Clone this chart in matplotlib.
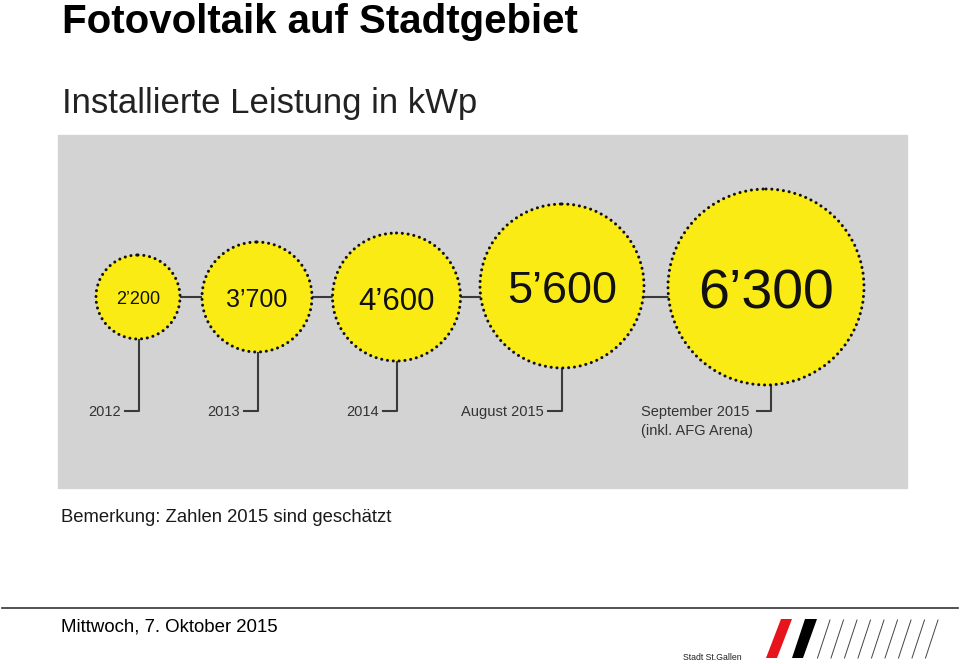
import matplotlib
matplotlib.use('Agg')
import matplotlib.pyplot as plt
from matplotlib.patches import Circle, Rectangle, Polygon

plt.rcParams['font.family'] = ['Liberation Sans', 'DejaVu Sans']

# Daten: installierte Leistung in kWp
labels = ['2012', '2013', '2014', 'August 2015', 'September 2015\n(inkl. AFG Arena)']
values = [2200, 3700, 4600, 5600, 6300]

# Layout (Pixel) der Kreise
cx = [138, 257, 396.5, 562, 766]
cy = [297, 297, 297, 286, 287]
radius = [42, 55, 64, 82, 98]
stem_x = [139, 258, 397, 562, 771]
val_size = [13, 18, 22.5, 32.5, 40]
val_y = [298, 298, 299, 287, 289]

yellow = '#fbeb14'
grey = '#d3d3d3'
dark = '#3a3a3a'


def fmt(v):
    return '%d\u2019%03d' % (v // 1000, v % 1000)


fig = plt.figure(figsize=(9.6, 6.64), dpi=100)
ax = fig.add_axes([0, 0, 1, 1])
ax.set_xlim(0, 960)
ax.set_ylim(664, 0)
ax.axis('off')

# Titel
ax.text(62, 33, 'Fotovoltaik auf Stadtgebiet', fontsize=29, fontweight='bold',
        color='black', va='baseline', ha='left')
ax.text(62, 113, 'Installierte Leistung in kWp', fontsize=25, color='#222222',
        va='baseline', ha='left')

# grauer Hintergrund
ax.add_patch(Rectangle((58, 135), 849, 353, color=grey, zorder=0))

# Verbindungslinie
ax.plot([cx[0], cx[-1]], [297, 297], color=dark, lw=1.5, zorder=1)

y_tick = 411
for i in range(len(values)):
    c = Circle((cx[i], cy[i]), radius[i], facecolor=yellow, edgecolor='#111111',
               lw=2.2, linestyle=(0, (0.01, 1.9)), zorder=2)
    c.set_capstyle('round')
    ax.add_patch(c)
    px = val_size[i] * 100 / 72
    ax.text(cx[i], val_y[i] + 0.358 * px, fmt(values[i]), fontsize=val_size[i],
            ha='center', va='baseline', color='#111111', zorder=3)
    # Stiel nach unten
    ax.plot([stem_x[i], stem_x[i], stem_x[i] - 14],
            [cy[i] + radius[i], y_tick, y_tick], color=dark, lw=1.5, zorder=1)
    lines = labels[i].split('\n')
    if len(lines) > 1:
        ax.text(641, y_tick + 1, lines[0], fontsize=10.5, ha='left',
                va='center', color='#333333')
        ax.text(641, y_tick + 20, lines[1], fontsize=10.5, ha='left',
                va='center', color='#333333')
    else:
        ax.text(stem_x[i] - 18, y_tick + 1, lines[0], fontsize=10.5, ha='right',
                va='center', color='#333333')

ax.text(61, 522, 'Bemerkung: Zahlen 2015 sind geschätzt', fontsize=13.3,
        color='#1a1a1a', va='baseline', ha='left')

# Fusszeile
ax.plot([2, 958], [608, 608], color='#333333', lw=1.2)
ax.text(61, 632, 'Mittwoch, 7. Oktober 2015', fontsize=13.4, color='black',
        va='baseline', ha='left')

# Logo
ax.text(683, 660, 'Stadt St.Gallen', fontsize=6.3, color='#222222',
        va='baseline', ha='left')
ax.add_patch(Polygon([(781, 619), (792, 619), (777, 658), (766, 658)],
                     closed=True, color='#e8141c', lw=0))
ax.add_patch(Polygon([(805, 619), (817, 619), (803, 658), (792, 658)],
                     closed=True, color='black', lw=0))
for k in range(9):
    x0 = 830 + k * 13.5
    ax.plot([x0, x0 - 12.5], [620, 658], color='#444444', lw=0.7)

fig.savefig('out.png', dpi=100)
